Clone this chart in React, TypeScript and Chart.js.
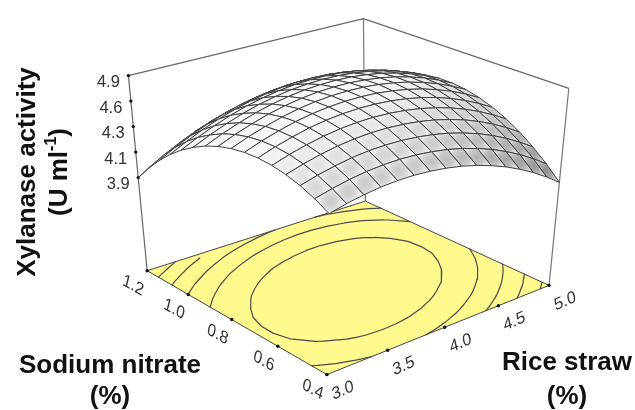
import React, { useEffect, useRef } from "react";
import { Chart, registerables } from "chart.js";

Chart.register(...registerables);

// ---- data ----
const riceStraw = [3.0, 3.133, 3.267, 3.4, 3.533, 3.667, 3.8, 3.933, 4.067, 4.2, 4.333, 4.467, 4.6, 4.733, 4.867, 5.0];
const sodiumNitrate = [0.4, 0.453, 0.507, 0.56, 0.613, 0.667, 0.72, 0.773, 0.827, 0.88, 0.933, 0.987, 1.04, 1.093, 1.147, 1.2];
// one row per sodium nitrate value, one column per rice straw value
const xylanase = [
  [4.428,4.467,4.496,4.517,4.527,4.527,4.517,4.497,4.468,4.429,4.380,4.322,4.253,4.175,4.086,3.988],
  [4.502,4.544,4.577,4.601,4.615,4.618,4.612,4.595,4.570,4.534,4.488,4.434,4.368,4.294,4.208,4.114],
  [4.561,4.607,4.643,4.671,4.688,4.694,4.691,4.678,4.656,4.624,4.582,4.531,4.469,4.398,4.316,4.225],
  [4.604,4.653,4.693,4.724,4.744,4.755,4.755,4.745,4.727,4.698,4.659,4.612,4.553,4.485,4.407,4.319],
  [4.631,4.684,4.727,4.761,4.785,4.799,4.803,4.797,4.781,4.756,4.721,4.677,4.621,4.557,4.482,4.398],
  [4.643,4.699,4.745,4.784,4.811,4.828,4.835,4.833,4.821,4.799,4.767,4.727,4.675,4.614,4.542,4.462],
  [4.639,4.699,4.748,4.790,4.821,4.841,4.852,4.853,4.845,4.826,4.798,4.761,4.712,4.655,4.587,4.509],
  [4.620,4.683,4.736,4.781,4.816,4.840,4.854,4.858,4.853,4.838,4.813,4.779,4.735,4.681,4.616,4.542],
  [4.584,4.651,4.707,4.756,4.793,4.821,4.839,4.846,4.845,4.833,4.812,4.781,4.740,4.690,4.628,4.558],
  [4.534,4.604,4.664,4.716,4.757,4.788,4.809,4.820,4.822,4.814,4.796,4.769,4.731,4.684,4.626,4.559],
  [4.467,4.540,4.604,4.659,4.704,4.738,4.763,4.777,4.783,4.778,4.764,4.740,4.706,4.662,4.608,4.544],
  [4.385,4.462,4.529,4.588,4.636,4.674,4.702,4.720,4.728,4.727,4.716,4.696,4.665,4.625,4.574,4.514],
  [4.287,4.367,4.438,4.500,4.551,4.593,4.624,4.646,4.658,4.660,4.653,4.636,4.609,4.572,4.524,4.468],
  [4.174,4.258,4.332,4.397,4.452,4.497,4.532,4.557,4.573,4.578,4.574,4.561,4.537,4.504,4.460,4.406],
  [4.045,4.132,4.210,4.279,4.337,4.385,4.424,4.452,4.471,4.480,4.480,4.470,4.449,4.420,4.379,4.329],
  [3.900,3.991,4.071,4.144,4.206,4.258,4.299,4.331,4.354,4.366,4.369,4.363,4.346,4.319,4.282,4.236],
];
const contourLevels = [4.053, 4.206, 4.359, 4.512, 4.68];
const activityTicks = [3.9, 4.15, 4.4, 4.65, 4.9];
const activityTickLabels = ["3.9", "4.1", "4.3", "4.6", "4.9"];
const strawTicks = [3.0, 3.5, 4.0, 4.5, 5.0];
const strawTickLabels = ["3.0", "3.5", "4.0", "4.5", "5.0"];
const nitrateTicks = [0.4, 0.6, 0.8, 1.0, 1.2];
const nitrateTickLabels = ["0.4", "0.6", "0.8", "1.0", "1.2"];

// ---- view of the box (perspective) ----
const FLOOR_CORNERS = { p00: [327, 378], p10: [552, 287], p11: [366, 201], p01: [145, 272] };
const ROOF_CORNERS = { p00: [330, 160], p10: [572, 86], p11: [364, 15], p01: [126, 73] };
const Z_FLOOR = 2.988;
const Z_ROOF = 4.9;

function homography(c: any) {
  const [x0, y0] = c.p00, [x1, y1] = c.p10, [x2, y2] = c.p11, [x3, y3] = c.p01;
  const dx1 = x1 - x2, dx2 = x3 - x2, sx = x0 - x1 + x2 - x3;
  const dy1 = y1 - y2, dy2 = y3 - y2, sy = y0 - y1 + y2 - y3;
  const den = dx1 * dy2 - dx2 * dy1;
  const g = (sx * dy2 - dx2 * sy) / den;
  const h = (dx1 * sy - sx * dy1) / den;
  const a = x1 - x0 + g * x1, b = x3 - x0 + h * x3;
  const d = y1 - y0 + g * y1, e = y3 - y0 + h * y3;
  return (u: number, v: number) => {
    const w = g * u + h * v + 1;
    return [(a * u + b * v + x0) / w, (d * u + e * v + y0) / w];
  };
}
const floorAt = homography(FLOOR_CORNERS);
const roofAt = homography(ROOF_CORNERS);
const uOf = (s: number) => (s - 3) / 2;
const vOf = (n: number) => (n - 0.4) / 0.8;
function project(straw: number, nitrate: number, z: number | null) {
  const u = uOf(straw), v = vOf(nitrate);
  const f = floorAt(u, v), r = roofAt(u, v);
  const t = z === null ? 0 : (z - Z_FLOOR) / (Z_ROOF - Z_FLOOR);
  return { x: f[0] + (r[0] - f[0]) * t, y: f[1] + (r[1] - f[1]) * t };
}

function grey(n: number) {
  const c = Math.round(Math.max(0, Math.min(255, n)));
  return `rgb(${c},${c},${c})`;
}

function surfaceCells() {
  const cells: any[] = [];
  const n = riceStraw.length;
  const m = sodiumNitrate.length;
  for (let j = m - 2; j >= 0; j--) {
    for (let i = n - 2; i >= 0; i--) {
      cells.push({ i, j, key: i + j });
    }
  }
  cells.sort((a, b) => b.key - a.key);
  return cells.map(({ i, j }) => {
    const a = project(riceStraw[i], sodiumNitrate[j], xylanase[j][i]);
    const b = project(riceStraw[i + 1], sodiumNitrate[j], xylanase[j][i + 1]);
    const c = project(riceStraw[i + 1], sodiumNitrate[j + 1], xylanase[j + 1][i + 1]);
    const d = project(riceStraw[i], sodiumNitrate[j + 1], xylanase[j + 1][i]);
    const dzdu = ((xylanase[j][i + 1] + xylanase[j + 1][i + 1]) - (xylanase[j][i] + xylanase[j + 1][i])) * 7.5;
    const dzdv = ((xylanase[j + 1][i] + xylanase[j + 1][i + 1]) - (xylanase[j][i] + xylanase[j][i + 1])) * 7.5;
    const pv = Math.max(0, dzdv), nu = Math.max(0, -dzdu), pu = Math.max(0, dzdu);
    const dark = 8 + 30 * Math.pow(pv, 1.5) + 14 * pu * pv + 16 * Math.pow(nu, 1.5);
    const centre = 255 - Math.min(125, dark);
    const edge = centre + (255 - centre) * 0.72;
    const pts = [a, b, c, d, a];
    return {
      type: "scatter",
      data: pts,
      showLine: true,
      fill: "shape",
      tension: 0,
      pointRadius: 0,
      borderColor: "#3e3e3e",
      borderWidth: 1,
      backgroundColor: (ctx: any) => {
        const ch = ctx.chart;
        const sx = ch.scales.x, sy = ch.scales.y;
        const px = pts.slice(0, 4).map((p) => [sx.getPixelForValue(p.x), sy.getPixelForValue(p.y)]);
        const cx = (px[0][0] + px[1][0] + px[2][0] + px[3][0]) / 4;
        const cy = (px[0][1] + px[1][1] + px[2][1] + px[3][1]) / 4;
        const r = Math.max(2, Math.hypot(px[0][0] - px[2][0], px[0][1] - px[2][1]) / 2, Math.hypot(px[1][0] - px[3][0], px[1][1] - px[3][1]) / 2);
        if (!Number.isFinite(cx) || !Number.isFinite(cy) || !Number.isFinite(r)) return grey(centre);
        const g = ch.ctx.createRadialGradient(cx, cy, 0, cx, cy, r);
        g.addColorStop(0, grey(centre));
        g.addColorStop(0.4, grey(centre + (edge - centre) * 0.3));
        g.addColorStop(0.8, grey(edge));
        g.addColorStop(1, grey(edge));
        return g;
      },
    };
  });
}

function contourLine(level: number) {
  const pts: any[] = [];
  const gap = { x: NaN, y: NaN };
  for (let j = 0; j < sodiumNitrate.length - 1; j++) {
    for (let i = 0; i < riceStraw.length - 1; i++) {
      const corners = [
        [riceStraw[i], sodiumNitrate[j], xylanase[j][i]],
        [riceStraw[i + 1], sodiumNitrate[j], xylanase[j][i + 1]],
        [riceStraw[i + 1], sodiumNitrate[j + 1], xylanase[j + 1][i + 1]],
        [riceStraw[i], sodiumNitrate[j + 1], xylanase[j + 1][i]],
      ];
      const hits: any[] = [];
      for (let k = 0; k < 4; k++) {
        const p = corners[k], q = corners[(k + 1) % 4];
        if ((p[2] - level) * (q[2] - level) < 0) {
          const f = (level - p[2]) / (q[2] - p[2]);
          hits.push(project(p[0] + (q[0] - p[0]) * f, p[1] + (q[1] - p[1]) * f, null));
        }
      }
      if (hits.length >= 2) pts.push(hits[0], hits[1], gap);
    }
  }
  return {
    type: "scatter",
    data: pts,
    showLine: true,
    fill: false,
    spanGaps: false,
    tension: 0,
    pointRadius: 0,
    borderColor: "#4a4a4a",
    borderWidth: 1.2,
    borderCapStyle: "round",
  };
}

function edgeLine(points: any[], color: string, width: number) {
  return { type: "scatter", data: points, showLine: true, fill: false, tension: 0, pointRadius: 0, borderColor: color, borderWidth: width };
}

function tickDots(points: any[]) {
  return { type: "scatter", data: points, showLine: false, pointRadius: 1.7, pointBackgroundColor: "#111", pointBorderWidth: 0 };
}

function buildDatasets() {
  const sMin = riceStraw[0], sMax = riceStraw[riceStraw.length - 1];
  const nMin = sodiumNitrate[0], nMax = sodiumNitrate[sodiumNitrate.length - 1];
  const f00 = project(sMin, nMin, null), f10 = project(sMax, nMin, null), f11 = project(sMax, nMax, null), f01 = project(sMin, nMax, null);
  const r10 = project(sMax, nMin, Z_ROOF), r11 = project(sMax, nMax, Z_ROOF), r01 = project(sMin, nMax, Z_ROOF);
  const back: any[] = [
    edgeLine([r01, r11, r10], "#666", 1.2),
    edgeLine([r11, f11], "#777", 1.2),
    edgeLine([r01, f01], "#666", 1.2),
    edgeLine([r10, f10], "#777", 1.2),
    {
      type: "scatter",
      data: [f00, f10, f11, f01, f00],
      showLine: true,
      fill: "shape",
      tension: 0,
      pointRadius: 0,
      backgroundColor: "#FFFA8E",
      borderColor: "#444",
      borderWidth: 1,
    },
    ...contourLevels.map(contourLine),
    tickDots(activityTicks.map((z) => project(sMin, nMax, z))),
    tickDots(strawTicks.map((s) => project(s, nMin, null))),
    tickDots(nitrateTicks.map((n) => project(sMin, n, null))),
    ...surfaceCells(),
  ];
  return back.reverse();
}

function drawSkewed(ctx: any, text: string, x: number, y: number, bx: number, by: number, ux: number, uy: number) {
  ctx.save();
  ctx.transform(bx, by, ux, uy, x, y);
  ctx.fillText(text, 0, 0);
  ctx.restore();
}

const textPlugin = {
  id: "boxText",
  afterDraw(chart: any) {
    const ctx = chart.ctx;
    const sx = chart.scales.x, sy = chart.scales.y;
    const at = (p: any) => [sx.getPixelForValue(p.x), sy.getPixelForValue(p.y)];
    const sMin = riceStraw[0], nMin = sodiumNitrate[0], nMax = sodiumNitrate[sodiumNitrate.length - 1];
    ctx.save();
    ctx.textAlign = "center";
    ctx.textBaseline = "middle";
    ctx.fillStyle = "#333";
    ctx.font = '16.5px "Liberation Sans"';
    activityTicks.forEach((z, i) => {
      const [x, y] = at(project(sMin, nMax, z));
      ctx.fillText(activityTickLabels[i], x - 20, y + 7);
    });
    strawTicks.forEach((s, i) => {
      const [x, y] = at(project(s, nMin, null));
      drawSkewed(ctx, strawTickLabels[i], x + 16, y + 16, 0.93, -0.42, 0.22, 1.0);
    });
    nitrateTicks.forEach((n, i) => {
      const [x, y] = at(project(sMin, n, null));
      drawSkewed(ctx, nitrateTickLabels[i], x - 14, y + 15, 0.89, 0.5, -0.25, 1.0);
    });

    ctx.fillStyle = "#111";
    ctx.font = 'bold 26px "Liberation Sans"';
    ctx.fillText("Sodium nitrate", 110, 366);
    ctx.fillText("(%)", 110, 397);
    ctx.fillText("Rice straw", 567, 363);
    ctx.fillText("(%)", 567, 397);

    ctx.save();
    ctx.translate(28, 172);
    ctx.rotate(-Math.PI / 2);
    ctx.fillText("Xylanase activity", 0, 0);
    ctx.restore();

    ctx.save();
    ctx.translate(60, 172);
    ctx.rotate(-Math.PI / 2);
    ctx.textAlign = "left";
    const a = "(U ml", b = "-1", c = ")";
    const wa = ctx.measureText(a).width, wc = ctx.measureText(c).width;
    ctx.font = 'bold 16px "Liberation Sans"';
    const wb = ctx.measureText(b).width;
    const x0 = -(wa + wb + wc) / 2;
    ctx.fillText(b, x0 + wa, -8);
    ctx.font = 'bold 26px "Liberation Sans"';
    ctx.fillText(a, x0, 0);
    ctx.fillText(c, x0 + wa + wb, 0);
    ctx.restore();
    ctx.restore();
  },
};

export default function App() {
  const ref = useRef<HTMLCanvasElement | null>(null);
  useEffect(() => {
    if (!ref.current) return;
    const chart = new Chart(ref.current, {
      type: "scatter",
      data: { datasets: buildDatasets() as any },
      options: {
        animation: false,
        responsive: false,
        events: [],
        layout: { padding: 0 },
        plugins: { legend: { display: false }, tooltip: { enabled: false }, title: { display: false } },
        scales: {
          x: { type: "linear", min: 0, max: 635, display: false },
          y: { type: "linear", min: 0, max: 410, reverse: true, display: false },
        },
      },
      plugins: [textPlugin],
    } as any);
    return () => chart.destroy();
  }, []);
  return (
    <canvas
      ref={ref}
      width={635}
      height={410}
      style={{ position: "fixed", left: 0, top: 0, width: 635, height: 410, background: "#fff", filter: "blur(0.45px)" }}
    />
  );
}
